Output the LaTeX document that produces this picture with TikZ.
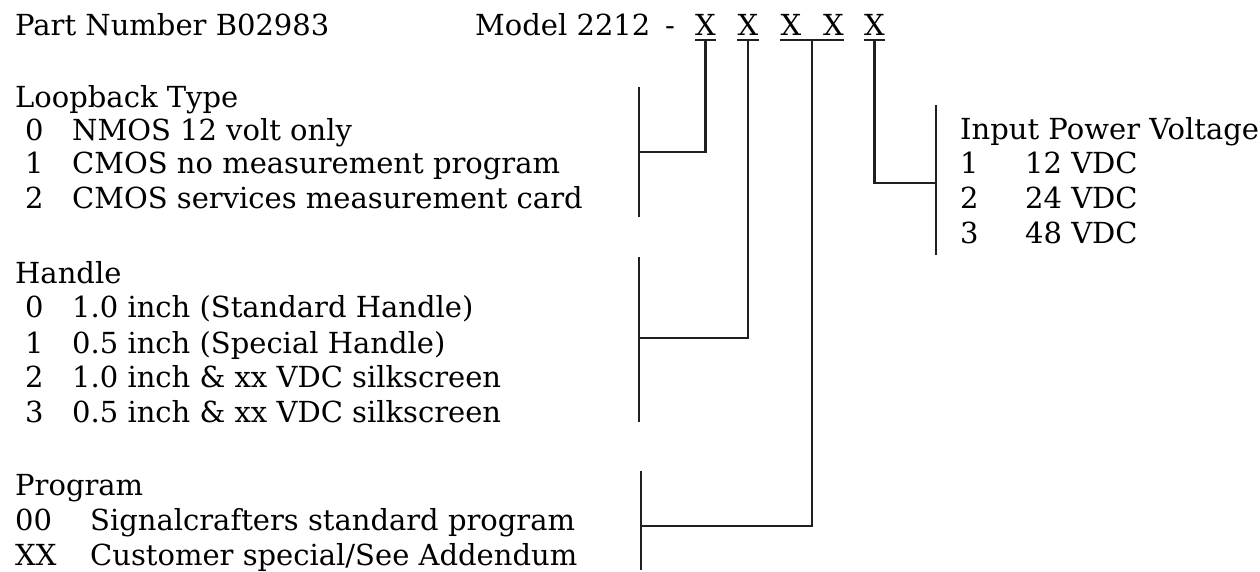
\documentclass[tikz,border=0pt]{standalone}
\usepackage{fontspec}
\setmainfont{DejaVu Serif}
\definecolor{pnink}{RGB}{35,31,32}
\usepackage{tikz}
\usetikzlibrary{calc}

\begin{document}
\begin{tikzpicture}[x=1pt, y=-1pt,
  txt/.style={anchor=base west, inner sep=0pt, font=\fontsize{29}{35}\selectfont},
  digit/.style={anchor=base, inner sep=0pt, font=\fontsize{29}{35}\selectfont},
  lead/.style={pnink, line width=2.4pt},
  brace/.style={pnink, line width=2.6pt}]
\useasboundingbox (0,0) rectangle (1260,571);
% Heading
\node[txt] (part) at (15,35) {Part Number B02983};
\node[txt] (model) at (475,35) {Model 2212};
\node[digit] (dash) at (670,35) {-};
\node[digit] (x1) at (705.5,35) {X};
\node[digit] (x2) at (748,35) {X};
\node[digit] (x3) at (791,35) {X};
\node[digit] (x4) at (833.5,35) {X};
\node[digit] (x5) at (874.5,35) {X};
% Underlines
\draw[lead] ([yshift=-5pt]x1.base west) -- ([yshift=-5pt]x1.base east);
\draw[lead] ([yshift=-5pt]x2.base west) -- ([yshift=-5pt]x2.base east);
\draw[lead] ([yshift=-5pt]x3.base west) -- ([yshift=-5pt]x4.base east);
\draw[lead] ([yshift=-5pt]x5.base west) -- ([yshift=-5pt]x5.base east);
\coordinate (u1) at ([yshift=-5pt]x1.base);
\coordinate (u2) at ([yshift=-5pt]x2.base);
\coordinate (u34) at ($([yshift=-5pt]x3.base west)!0.5!([yshift=-5pt]x4.base east)$);
\coordinate (u5) at ([yshift=-5pt]x5.base);

% Loopback Type
\node[txt] (loop) at (15,107) {Loopback Type};
\node[txt] (loop0) at (25,140) {0};
\node[txt] at (72,140) {NMOS 12 volt only};
\node[txt] (loop1) at (25,173) {1};
\node[txt] at (72,173) {CMOS no measurement program};
\node[txt] (loop2) at (25,208) {2};
\node[txt] at (72,208) {CMOS services measurement card};
% Handle
\node[txt] (hdl) at (15,283) {Handle};
\node[txt] (hdl0) at (25,317) {0};
\node[txt] at (72,317) {1.0 inch (Standard Handle)};
\node[txt] (hdl1) at (25,353) {1};
\node[txt] at (72,353) {0.5 inch (Special Handle)};
\node[txt] (hdl2) at (25,387) {2};
\node[txt] at (72,387) {1.0 inch \& xx VDC silkscreen};
\node[txt] (hdl3) at (25,422) {3};
\node[txt] at (72,422) {0.5 inch \& xx VDC silkscreen};
% Program
\node[txt] (prog) at (15,495) {Program};
\node[txt] (prog00) at (15,530) {00};
\node[txt] at (90,530) {Signalcrafters standard program};
\node[txt] (progXX) at (15,565) {XX};
\node[txt] at (90,565) {Customer special/See Addendum};
% Input Power Voltage
\node[txt] (pwr) at (960,139) {Input Power Voltage};
\node[txt] (pwr1) at (960,173) {1};
\node[txt] at (1025,173) {12 VDC};
\node[txt] (pwr2) at (960,208) {2};
\node[txt] at (1025,208) {24 VDC};
\node[txt] (pwr3) at (960,243) {3};
\node[txt] at (1025,243) {48 VDC};

% Brackets
\coordinate (loopT) at (639,87);  \coordinate (loopB) at (639,217);
\coordinate (hdlT) at (639,257);  \coordinate (hdlB) at (639,422);
\coordinate (progT) at (641,471); \coordinate (progB) at (641,570);
\coordinate (pwrT) at (936,105);  \coordinate (pwrB) at (936,255);
\draw[brace] (loopT) -- (loopB);
\draw[brace] (hdlT) -- (hdlB);
\draw[brace] (progT) -- (progB);
\draw[brace] (pwrT) -- (pwrB);
\coordinate (loopM) at (639,152);
\coordinate (hdlM) at (639,338);
\coordinate (progM) at (641,526);
\coordinate (pwrM) at (936,183);
% Leads
\draw[lead] (u1) |- (loopM);
\draw[lead] (u2) |- (hdlM);
\draw[lead] (u34) |- (progM);
\draw[lead] (u5) |- (pwrM);
\end{tikzpicture}
\end{document}
